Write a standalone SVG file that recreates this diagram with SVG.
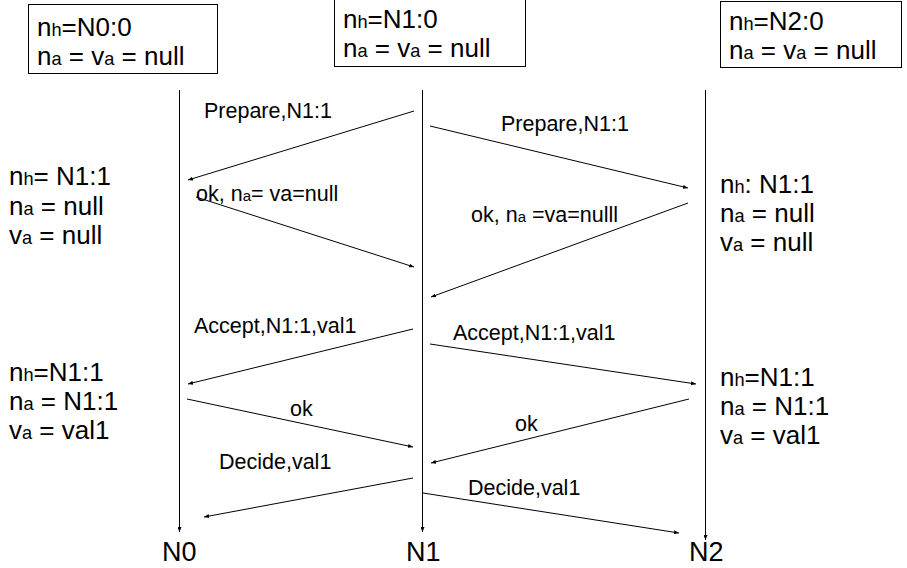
<svg xmlns="http://www.w3.org/2000/svg" width="907" height="568" viewBox="0 0 907 568">
<defs>
<marker id="ah" markerWidth="6" markerHeight="4" refX="5" refY="2" orient="auto" markerUnits="userSpaceOnUse">
<path d="M0,0 L5,2 L0,4 z" fill="#000"/>
</marker>
<style>
text{font-family:"Liberation Sans",Arial,sans-serif;fill:#000}
.st{font-size:26px}
.lb{font-size:21.5px}
.nd{font-size:27px}
.s{font-size:70%}
.box{fill:#fff;stroke:#000;stroke-width:1}
.ln{stroke:#000;stroke-width:1;fill:none;marker-end:url(#ah)}
</style>
</defs>
<rect width="907" height="568" fill="#fff"/>
<g id="box-N0">
<rect class="box" x="28.5" y="4.5" width="189" height="69"/>
<text class="st" x="37" y="36">n<tspan class="s">h</tspan>=N0:0</text>
<text class="st" x="37" y="65">n<tspan class="s">a</tspan> = v<tspan class="s">a</tspan> = null</text>
</g>
<g id="box-N1">
<rect class="box" x="334.5" y="-0.5" width="191" height="67"/>
<text class="st" x="343" y="28">n<tspan class="s">h</tspan>=N1:0</text>
<text class="st" x="343" y="57">n<tspan class="s">a</tspan> = v<tspan class="s">a</tspan> = null</text>
</g>
<g id="box-N2">
<rect class="box" x="720.5" y="1.5" width="181" height="66"/>
<text class="st" x="729" y="30">n<tspan class="s">h</tspan>=N2:0</text>
<text class="st" x="729" y="59">n<tspan class="s">a</tspan> = v<tspan class="s">a</tspan> = null</text>
</g>
<g id="state-N0-1">
<text class="st" x="9" y="185">n<tspan class="s">h</tspan>= N1:1</text>
<text class="st" x="9" y="215">n<tspan class="s">a</tspan> = null</text>
<text class="st" x="9" y="244">v<tspan class="s">a</tspan> = null</text>
</g>
<g id="state-N2-1">
<text class="st" x="720" y="193">n<tspan class="s">h</tspan>: N1:1</text>
<text class="st" x="720" y="222">n<tspan class="s">a</tspan> = null</text>
<text class="st" x="720" y="251">v<tspan class="s">a</tspan> = null</text>
</g>
<g id="state-N0-2">
<text class="st" x="9" y="381">n<tspan class="s">h</tspan>=N1:1</text>
<text class="st" x="9" y="410">n<tspan class="s">a</tspan> = N1:1</text>
<text class="st" x="9" y="439">v<tspan class="s">a</tspan> = val1</text>
</g>
<g id="state-N2-2">
<text class="st" x="720" y="386">n<tspan class="s">h</tspan>=N1:1</text>
<text class="st" x="720" y="415">n<tspan class="s">a</tspan> = N1:1</text>
<text class="st" x="720" y="444">v<tspan class="s">a</tspan> = val1</text>
</g>
<g id="N0"><text class="nd" x="162" y="561">N0</text></g>
<g id="N1"><text class="nd" x="406" y="561">N1</text></g>
<g id="N2"><text class="nd" x="689" y="561">N2</text></g>
<g id="connectors">
<line class="ln" x1="179.5" y1="90" x2="179.5" y2="532"/>
<line class="ln" x1="422.5" y1="90" x2="422.5" y2="532"/>
<line class="ln" x1="705.5" y1="90" x2="705.5" y2="540"/>
<line class="ln" x1="414" y1="111" x2="188" y2="180"/>
<line class="ln" x1="430" y1="126" x2="688" y2="188"/>
<line class="ln" x1="196" y1="197" x2="414" y2="267"/>
<line class="ln" x1="688" y1="203" x2="431" y2="297"/>
<line class="ln" x1="413" y1="329" x2="188" y2="384"/>
<line class="ln" x1="430" y1="344" x2="696" y2="384"/>
<line class="ln" x1="187" y1="399" x2="413" y2="447"/>
<line class="ln" x1="689" y1="399" x2="431" y2="463"/>
<line class="ln" x1="413" y1="478" x2="204" y2="517"/>
<line class="ln" x1="423" y1="493" x2="679" y2="533"/>
</g>
<g id="labels">
<text class="lb" x="204" y="118">Prepare,N1:1</text>
<text class="lb" x="501" y="131">Prepare,N1:1</text>
<text class="lb" x="196" y="201">ok, n<tspan class="s">a</tspan>= va=null</text>
<text class="lb" x="471" y="222">ok, n<tspan class="s">a</tspan> =va=nulll</text>
<text class="lb" x="194" y="333">Accept,N1:1,val1</text>
<text class="lb" x="453" y="340">Accept,N1:1,val1</text>
<text class="lb" x="290" y="416">ok</text>
<text class="lb" x="515" y="431">ok</text>
<text class="lb" x="219" y="469">Decide,val1</text>
<text class="lb" x="468" y="495">Decide,val1</text>
</g>
</svg>
